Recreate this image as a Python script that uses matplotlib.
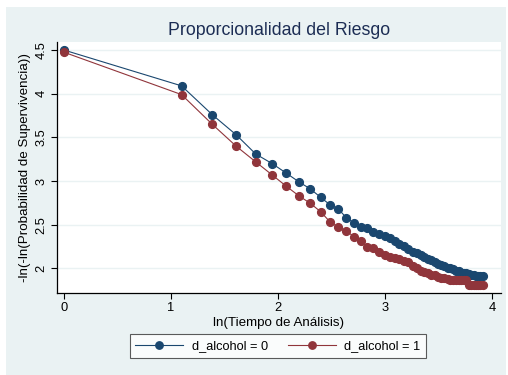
import matplotlib
matplotlib.use("Agg")
import matplotlib.pyplot as plt
from matplotlib.patches import Rectangle

plt.rcParams['font.family'] = ['Liberation Sans', 'DejaVu Sans']

# ln(analysis time)
ln_time = [0.000, 1.099, 1.386, 1.609, 1.792, 1.946, 2.079, 2.197, 2.303, 2.398,
           2.485, 2.565, 2.639, 2.708, 2.773, 2.833, 2.890, 2.944, 2.996, 3.045,
           3.091, 3.135, 3.178, 3.219, 3.258, 3.296, 3.332, 3.367, 3.401, 3.434,
           3.466, 3.497, 3.526, 3.555, 3.584, 3.611, 3.638, 3.664, 3.689, 3.714,
           3.738, 3.761, 3.784, 3.807, 3.829, 3.850, 3.871, 3.892, 3.912]

# -ln(-ln(S)) for d_alcohol = 0
alcohol_0 = [4.50, 4.09, 3.76, 3.53, 3.31, 3.20, 3.09, 2.99, 2.91, 2.815,
             2.73, 2.68, 2.58, 2.52, 2.48, 2.46, 2.42, 2.395, 2.37, 2.35,
             2.315, 2.286, 2.257, 2.223, 2.194, 2.177, 2.154, 2.131, 2.114, 2.097,
             2.074, 2.057, 2.04, 2.023, 2.011, 2.0, 1.989, 1.977, 1.966, 1.954,
             1.949, 1.943, 1.937, 1.926, 1.92, 1.918, 1.918, 1.918, 1.918]

# -ln(-ln(S)) for d_alcohol = 1
alcohol_1 = [4.475, 3.99, 3.65, 3.40, 3.22, 3.07, 2.94, 2.83, 2.745, 2.65,
             2.535, 2.47, 2.43, 2.365, 2.315, 2.25, 2.23, 2.19, 2.155, 2.137,
             2.12, 2.103, 2.086, 2.074, 2.03, 2.0, 1.977, 1.96, 1.949, 1.931,
             1.92, 1.903, 1.891, 1.886, 1.88, 1.874, 1.874, 1.874, 1.874, 1.874,
             1.874, 1.874, 1.815, 1.812, 1.811, 1.811, 1.811, 1.811, 1.811]

x_ticks = [0, 1, 2, 3, 4]
y_ticks = [2, 2.5, 3, 3.5, 4, 4.5]
y_ticklabels = ['2', '2.5', '3', '3.5', '4', '4.5']

navy = '#1a476f'
maroon = '#90353b'
bg = '#eaf2f3'

fig = plt.figure(figsize=(5.08, 3.75), dpi=100)
fig.patch.set_facecolor('white')
fig.patches.append(Rectangle((6 / 508, 0), 500 / 508, 1 - 7 / 375,
                             transform=fig.transFigure, facecolor=bg,
                             edgecolor='none', zorder=-10))

ax = fig.add_axes([57 / 508, 1 - 292.7 / 375, (500.7 - 57) / 508, (292.7 - 42) / 375])
ax.set_facecolor('white')

ax.plot(ln_time, alcohol_0, color=navy, lw=0.8, marker='o', ms=5.6,
        mec=navy, mfc=navy, label='d_alcohol = 0', zorder=3)
ax.plot(ln_time, alcohol_1, color=maroon, lw=0.8, marker='o', ms=5.6,
        mec=maroon, mfc=maroon, label='d_alcohol = 1', zorder=3)

ax.set_xlim(-0.065, 4.081)
ax.set_ylim(1.723, 4.592)
ax.set_xticks(x_ticks)
ax.set_yticks(y_ticks)
ax.set_yticklabels(y_ticklabels, rotation=90, va='center')
ax.tick_params(axis='both', direction='out', length=4.5, width=0.8,
               labelsize=9.3, colors='black', pad=2.5)
ax.grid(axis='y', color=bg, lw=1.0)
ax.set_axisbelow(True)

for s in ['top', 'right']:
    ax.spines[s].set_visible(False)
for s in ['left', 'bottom']:
    ax.spines[s].set_color('black')
    ax.spines[s].set_linewidth(0.9)

ax.set_xlabel('ln(Tiempo de Análisis)', fontsize=9.6, labelpad=2)
ax.set_ylabel('-ln(-ln(Probabilidad de Supervivencia))', fontsize=9.6, labelpad=3)

fig.text(279 / 508, 1 - 30.5 / 375, 'Proporcionalidad del Riesgo', fontsize=12.8,
         color='#1c2d54', ha='center', va='center')

leg = fig.legend(loc='center', bbox_to_anchor=(278 / 508, 1 - 346 / 375), ncol=2,
                 fontsize=9.2, frameon=True, fancybox=False, handlelength=3.7,
                 handletextpad=0.7, columnspacing=1.6, borderpad=0.45,
                 markerscale=0.95)
leg.get_frame().set_edgecolor('#333333')
leg.get_frame().set_linewidth(0.8)
leg.get_frame().set_facecolor('white')

fig.savefig('out.png', dpi=100)
